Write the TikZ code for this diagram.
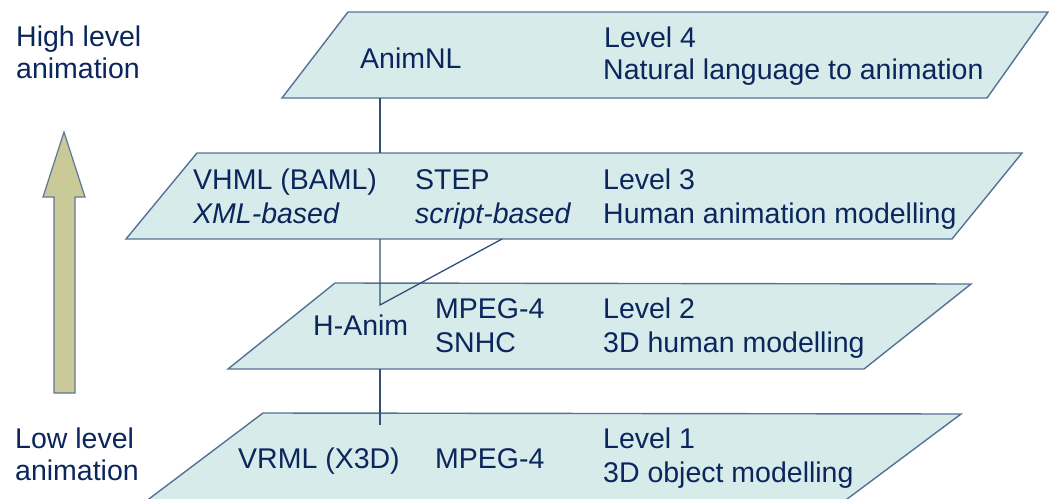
\documentclass[tikz,border=0pt]{standalone}
\usepackage{fontspec}
\setmainfont{Liberation Sans}
\definecolor{planefill}{RGB}{216,235,235}
\definecolor{planeedge}{RGB}{84,114,152}
\definecolor{linkcol}{RGB}{48,80,122}
\definecolor{inkcol}{RGB}{10,38,92}
\definecolor{arrowfill}{RGB}{202,202,152}
\definecolor{arrowedge}{RGB}{92,120,150}
\begin{document}
\begin{tikzpicture}[x=1pt,y=-1pt,
  plane/.style={fill=planefill,draw=planeedge,line width=1.4pt,line join=miter},
  link/.style={draw=linkcol,line width=1.3pt},
  txt/.style={anchor=base west,inner sep=0pt,text=inkcol,font=\fontsize{28.5}{33}\selectfont},
  itxt/.style={txt,font=\fontsize{28.5}{33}\selectfont\itshape},
  bigarrow/.style={fill=arrowfill,draw=arrowedge,line width=1.2pt,line join=miter}]
\useasboundingbox (0,0) rectangle (1049,498);
\fill[white] (0,0) rectangle (1049,498);
\clip (0,0) rectangle (1049,498);

% four layers, top to bottom
\draw[plane] (348,12) -- (1048,12) -- (987,98) -- (282,98) -- cycle;
\draw[plane] (197,153) -- (1022,153) -- (952,239) -- (126,239) -- cycle;
\draw[plane] (335,283) -- (971,284) -- (864,369) -- (228,369) -- cycle;
\draw[plane] (263,413) -- (961,414) -- (819,520) -- (121,520) -- cycle;

% up arrow from low to high level
\draw[bigarrow] (54,393) -- (54,197) -- (43,197) -- (64,132) -- (85,197)
  -- (75,197) -- (75,393) -- cycle;

% side labels
\node[txt] (hi1) at (16,46) {High level};
\node[txt] (hi2) at (16,78) {animation};
\node[txt] (lo1) at (15,448) {Low level};
\node[txt] (lo2) at (15,480) {animation};

% level 4
\node[txt] (animnl) at (360,68) {AnimNL};
\node[txt] (lv4) at (604,47) {Level 4};
\node[txt] (lv4d) at (603,79) {Natural language to animation};

% level 3
\node[txt] (vhml) at (193,189) {VHML (BAML)};
\node[itxt] (xmlb) at (193,223) {XML-based};
\node[txt] (stepname) at (415,189) {STEP};
\node[itxt] (scriptb) at (415,223) {script-based};
\node[txt] (lv3) at (603,189) {Level 3};
\node[txt] (lv3d) at (603,223) {Human animation modelling};

% level 2
\node[txt] (hanim) at (313,335) {H-Anim};
\node[txt] (mpegb) at (435,318) {MPEG-4};
\node[txt] (snhc) at (435,352) {SNHC};
\node[txt] (lv2) at (603,318) {Level 2};
\node[txt] (lv2d) at (603,352) {3D human modelling};

% level 1
\node[txt] (vrml) at (238,468) {VRML (X3D)};
\node[txt] (mpega) at (435,468) {MPEG-4};
\node[txt] (lv1) at (603,448) {Level 1};
\node[txt] (lv1d) at (603,482) {3D object modelling};

% connector ends
\coordinate (animnlout) at (380,98);
\coordinate (vhmlin) at (380,153);
\coordinate (vhmlout) at (380,239);
\coordinate (stepout) at (502,239);
\coordinate (hanimin) at (380,305);
\coordinate (hanimout) at (380,369);
\coordinate (vrmlin) at (380,425);

\draw[link] (animnlout) -- (vhmlin);
\draw[link] (vhmlout) -- (hanimin) -- (stepout);
\draw[link] (hanimout) -- (vrmlin);
\end{tikzpicture}
\end{document}
